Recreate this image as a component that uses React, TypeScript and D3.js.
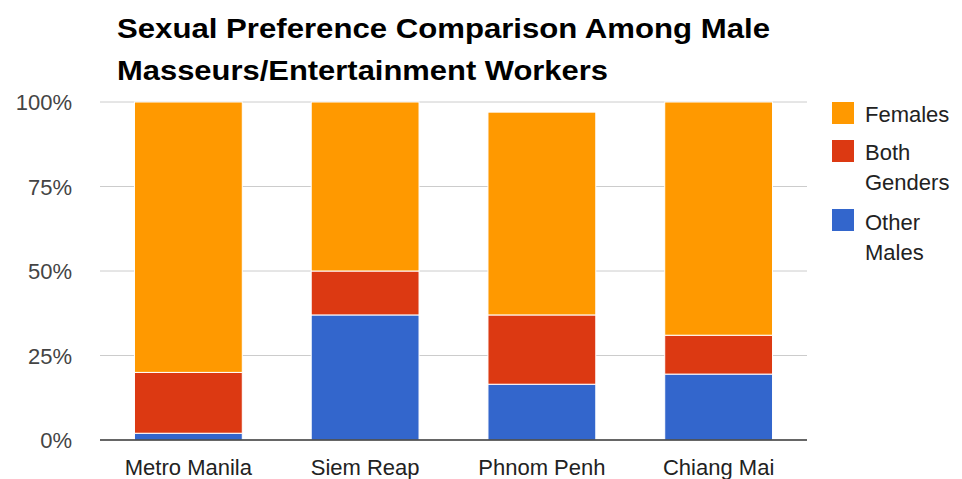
import React from "react";
import * as d3 from "d3";

const categories = ["Metro Manila", "Siem Reap", "Phnom Penh", "Chiang Mai"];
const otherMales = [2, 37, 16.5, 19.5];
const bothGenders = [18, 13, 20.5, 11.5];
const females = [80, 50, 60, 69];
const seriesNames = ["Other Males", "Both Genders", "Females"];
const yTicks = [0, 25, 50, 75, 100];
const colors = ["#3366cc", "#dc3912", "#ff9900"];
const legendItems = [
  { lines: ["Females"], color: "#ff9900" },
  { lines: ["Both", "Genders"], color: "#dc3912" },
  { lines: ["Other", "Males"], color: "#3366cc" },
];

const W = 962, H = 479;
const left = 100, right = 807, top = 102, bottom = 440;

export default function App() {
  const x = d3.scaleBand().domain(categories).range([left, right]).paddingInner(0.39).paddingOuter(0.195);
  const y = d3.scaleLinear().domain([0, 100]).range([bottom, top]);
  const rows = categories.map((c, i) => ({ cat: c, "Other Males": otherMales[i], "Both Genders": bothGenders[i], Females: females[i] }));
  const stack = d3.stack<any>().keys(seriesNames)(rows);
  const font = "'Liberation Sans', Arial, sans-serif";
  const legendSquareY = [102, 140, 209];
  const legendBase = [[122], [160, 190], [230, 260]];
  return (
    <svg width={W} height={H} style={{ position: "absolute", left: 0, top: 0, background: "#fff" }} fontFamily={font}>
      <rect width={W} height={H} fill="#fff" />
      <text x={117} y={38} fontSize={28} fontWeight="bold" fill="#000" textLength={653} lengthAdjust="spacingAndGlyphs">Sexual Preference Comparison Among Male</text>
      <text x={117} y={80} fontSize={28} fontWeight="bold" fill="#000" textLength={491} lengthAdjust="spacingAndGlyphs">Masseurs/Entertainment Workers</text>
      {yTicks.map((t) => (
        <g key={t}>
          {t > 0 && <line x1={left} x2={right} y1={y(t)} y2={y(t)} stroke="#cccccc" strokeWidth={1} />}
          <text x={72} y={y(t) + 8} textAnchor="end" fontSize={22} fill="#444">{t}%</text>
        </g>
      ))}
      {stack.map((s, si) => (
        <g key={si} fill={colors[si]}>
          {s.map((d, i) => (
            <rect key={i} x={x(categories[i])} width={x.bandwidth()} y={y(d[1])} height={y(d[0]) - y(d[1])} stroke="#ffffff" strokeWidth={1} />
          ))}
        </g>
      ))}
      <line x1={left} x2={right} y1={bottom} y2={bottom} stroke="#333" strokeWidth={1.5} />
      {categories.map((c) => (
        <text key={c} x={(x(c) as number) + x.bandwidth() / 2} y={475} textAnchor="middle" fontSize={22} fill="#222">{c}</text>
      ))}
      {legendItems.map((it, i) => (
        <g key={i}>
          <rect x={832} y={legendSquareY[i]} width={22} height={22} fill={it.color} />
          {it.lines.map((l, j) => (
            <text key={j} x={865} y={legendBase[i][j]} fontSize={22} fill="#222">{l}</text>
          ))}
        </g>
      ))}
    </svg>
  );
}
